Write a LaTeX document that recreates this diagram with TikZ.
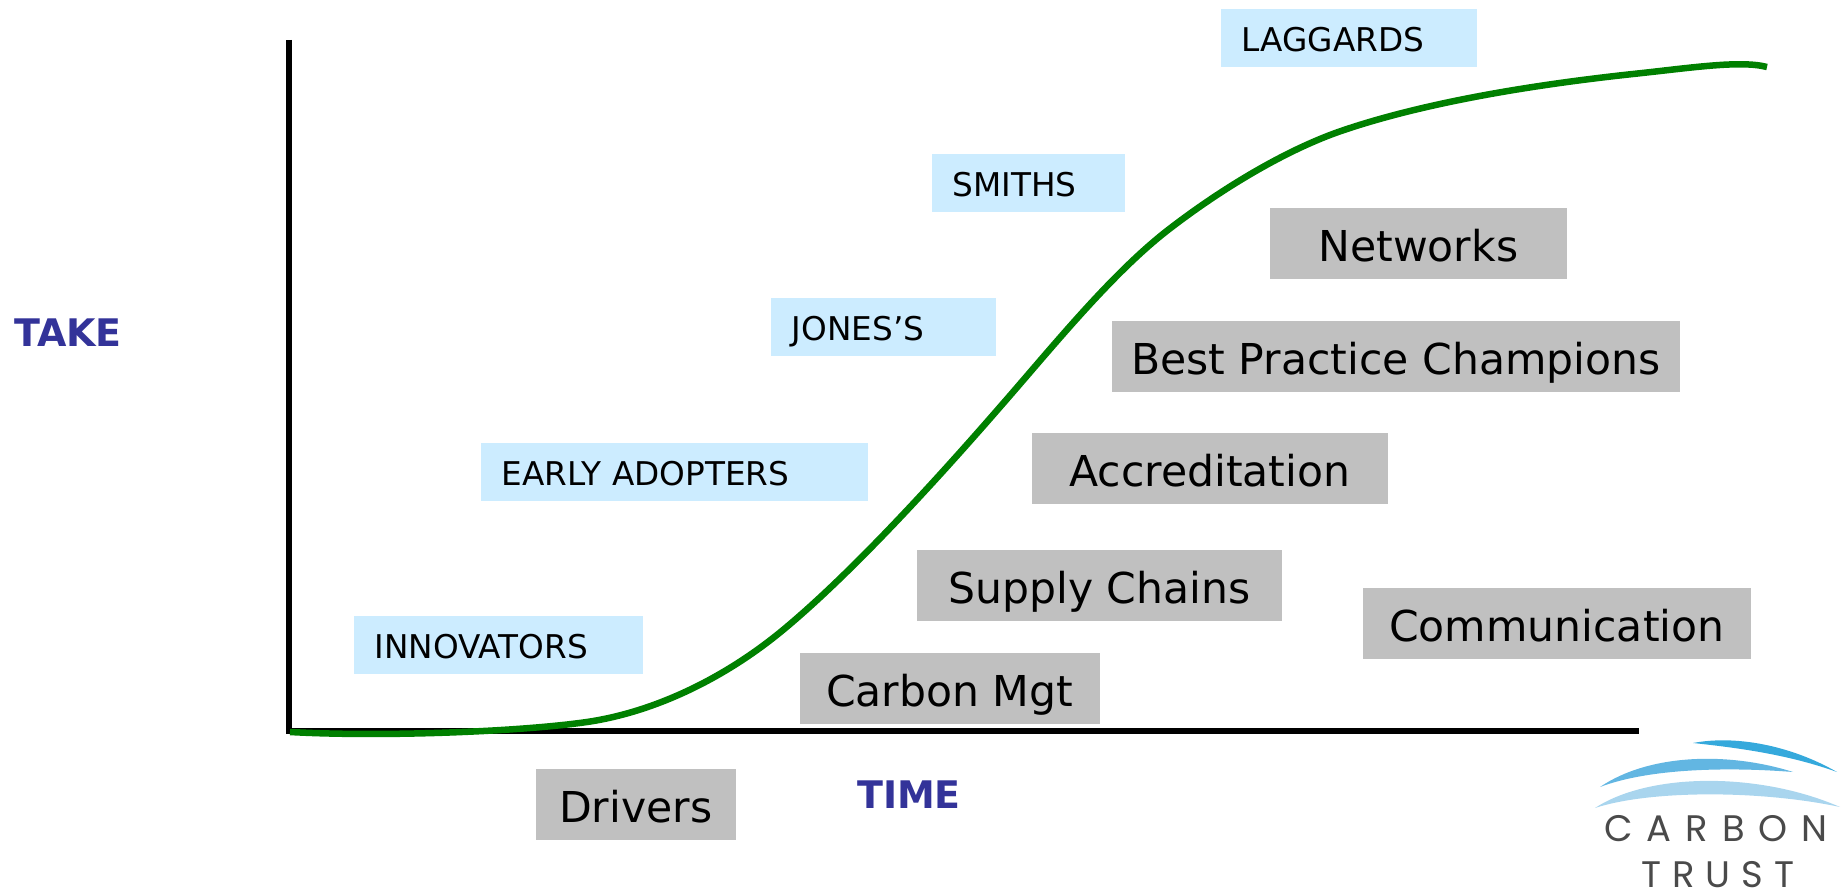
\documentclass[tikz,border=0pt]{standalone}
\usepackage{fontspec}
\setmainfont{DejaVu Sans}
\newfontfamily\logofont[LetterSpace=38]{Poppins}
\newfontfamily\logofonttight[LetterSpace=30]{Poppins}
\usetikzlibrary{positioning}
\definecolor{tagblue}{HTML}{CCECFF}
\definecolor{boxgrey}{HTML}{C0C0C0}
\definecolor{axislabel}{HTML}{333399}
\definecolor{curvegreen}{HTML}{008000}
\definecolor{logogrey}{HTML}{4A4A4A}
\definecolor{swooshtop}{HTML}{35A9DC}
\definecolor{swooshmid}{HTML}{62B6E2}
\definecolor{swooshlow}{HTML}{A9D5EE}

\begin{document}
\begin{tikzpicture}[x=0.01cm, y=-0.01cm]
  \tikzset{stage/.style={anchor=north west, fill=tagblue, inner xsep=0.21cm, inner ysep=0pt, minimum height=0.58cm, text height=8.1pt, text depth=0pt, align=left, font=\fontsize{9.3}{11}\selectfont},
           lever/.style={anchor=north west, fill=boxgrey, inner sep=0pt, minimum height=0.71cm, text height=10.2pt, text depth=0pt, font=\fontsize{12.1}{14}\selectfont},
           axisname/.style={text=axislabel, inner sep=0pt, font=\fontsize{10.8}{13}\selectfont\bfseries},
           logotext/.style={inner sep=0pt, text=logogrey}}
  \useasboundingbox (0,0) rectangle (1841,891);

  % axes
  \coordinate (origin) at (289,731);
  \coordinate (top) at (289,40);
  \coordinate (right) at (1639,731);
  \draw[line width=1.45pt] (top) -- (origin) -- (right);

  % stages of the curve
  \node[stage, text width=2.14cm] (laggards) at (1220,8) {LAGGARDS};
  \node[stage, text width=1.51cm] (smiths) at (931,153) {SMITHS};
  \node[stage, text width=1.83cm] (jones) at (770,297) {JONES'S};
  \node[stage, text width=3.45cm] (early) at (480,442) {EARLY ADOPTERS};
  \node[stage, text width=2.47cm] (innovators) at (353,615) {INNOVATORS};

  % levers
  \node[lever, minimum width=2.97cm] (networks) at (1269,207) {Networks};
  \node[lever, minimum width=5.68cm] (practice) at (1111,320) {Best Practice Champions};
  \node[lever, minimum width=3.56cm] (accreditation) at (1031,432) {Accreditation};
  \node[lever, minimum width=3.65cm] (supply) at (916,549) {Supply Chains};
  \node[lever, minimum width=3.88cm] (communication) at (1362,587) {Communication};
  \node[lever, minimum width=3.00cm] (carbon) at (799,652) {Carbon Mgt};
  \node[lever, minimum width=2.00cm] (drivers) at (535,768) {Drivers};

  % axis names
  \node[axisname] (take) at (68,333) {TAKE};
  \node[axisname] (time) at (909,795) {TIME};

  % the curve
  \draw[curvegreen, line width=1.85pt] (290,732) .. controls (380,737) and (517,732) .. (587,722)
    .. controls (655,712) and (725,678) .. (783,630)
    .. controls (853,572) and (940,476) .. (1000,407)
    .. controls (1050,350) and (1110,275) .. (1168,230)
    .. controls (1225,186) and (1290,148) .. (1344,130)
    .. controls (1430,101) and (1540,84) .. (1633,74)
    .. controls (1690,68) and (1740,60) .. (1767,67);

  % logo
  \fill[swooshtop] (1693,743) .. controls (1735,735) and (1790,745) .. (1837,772) .. controls (1790,755) and (1740,748) .. (1693,743);
  \fill[swooshmid] (1600,787) .. controls (1650,753) and (1730,752) .. (1793,772) .. controls (1730,767) and (1650,768) .. (1600,787);
  \fill[swooshlow] (1595,808) .. controls (1650,772) and (1760,772) .. (1840,807) .. controls (1760,790) and (1650,790) .. (1595,808);
  \node[logotext, font=\fontsize{10.5}{12}\logofont] (logoa) at (1716,829) {CARBON};
  \node[logotext, font=\fontsize{10.5}{12}\logofonttight] (logob) at (1718,875) {TRUST};
\end{tikzpicture}
\end{document}
